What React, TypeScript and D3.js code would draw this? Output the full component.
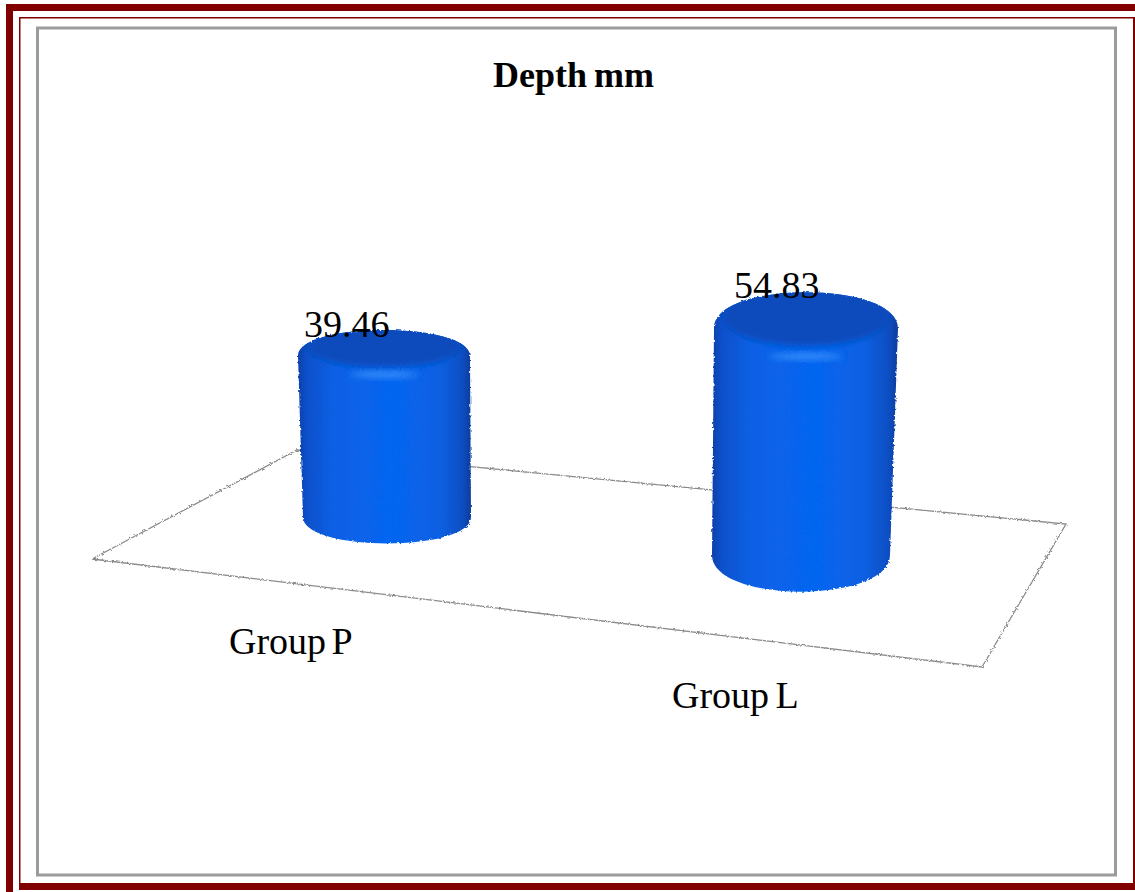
import React from "react";
import * as d3 from "d3";

const categories = ["Group P", "Group L"];
const depthValues = [39.46, 54.83];
const chartTitle = "Depth mm";

// Projected placement of each cylinder on the floor plane
const footprints = [
  { topX: 384, bottomX: 387, baseY: 521, rxTop: 86, rxBottom: 84, ry: 23, labelX: 304, labelY: 337, catX: 229, catY: 654, gap: -4 },
  { topX: 806, bottomX: 801, baseY: 559, rxTop: 92, rxBottom: 89, ry: 33, labelX: 734, labelY: 298, catX: 672, catY: 708, gap: -3 },
];

const floor: [number, number][] = [[92, 559], [297, 450], [1066, 524], [982, 667]];

const heightScale = d3.scaleLinear().domain([0, 60]).range([0, 256]);

function Cylinder({ index }: { index: number }) {
  const f = footprints[index];
  const h = heightScale(depthValues[index]);
  const topY = f.baseY - h;
  const body = d3.path();
  body.moveTo(f.topX - f.rxTop, topY + 3);
  body.bezierCurveTo(f.topX - f.rxTop, topY - f.ry * 1.36, f.topX + f.rxTop, topY - f.ry * 1.36, f.topX + f.rxTop, topY + 3);
  body.lineTo(f.bottomX + f.rxBottom, f.baseY - 4);
  body.bezierCurveTo(f.bottomX + f.rxBottom, f.baseY + f.ry * 1.36, f.bottomX - f.rxBottom, f.baseY + f.ry * 1.36, f.bottomX - f.rxBottom, f.baseY - 4);
  body.closePath();
  const clipId = `silhouette-${index}`;
  return (
    <g filter="url(#rough)">
      <clipPath id={clipId}>
        <path d={body.toString()} />
      </clipPath>
      <path d={body.toString()} fill="url(#side)" />
      <g clipPath={`url(#${clipId})`}>
        <ellipse cx={f.topX} cy={topY - f.ry * 0.28} rx={f.rxTop - 8} ry={f.ry * 0.92} fill="#0a4cbc" filter="url(#soft)" />
      </g>
      <ellipse cx={f.topX} cy={topY + f.ry * 0.95} rx={f.rxTop * 0.4} ry={2.6} fill="#4f9fff" opacity={0.85} filter="url(#soft)" />
    </g>
  );
}

export default function App() {
  const outline = d3.line()(floor.concat([floor[0]])) ?? "";
  const maroon = "#800000";
  return (
    <svg
      width={1135}
      height={892}
      style={{ position: "absolute", left: 0, top: 0, background: "#fff" }}
      fontFamily="'Liberation Serif', serif"
    >
      <defs>
        <linearGradient id="side" x1="0" x2="1" y1="0" y2="0">
          <stop offset="0" stopColor="#0a3fa8" />
          <stop offset="0.05" stopColor="#0a50ca" />
          <stop offset="0.2" stopColor="#0860e4" />
          <stop offset="0.55" stopColor="#0666f0" />
          <stop offset="0.82" stopColor="#0860e2" />
          <stop offset="0.95" stopColor="#0a4ec2" />
          <stop offset="1" stopColor="#0a3c9c" />
        </linearGradient>
        <filter id="soft" x="-20%" y="-60%" width="140%" height="220%">
          <feGaussianBlur stdDeviation="3" />
        </filter>
        <filter id="rough" x="-5%" y="-5%" width="110%" height="110%">
          <feTurbulence type="fractalNoise" baseFrequency="0.45" numOctaves="1" seed="4" result="n" />
          <feDisplacementMap in="SourceGraphic" in2="n" scale="3.5" />
        </filter>
      </defs>

      {/* Page border: heavy top, left and bottom bars with a thin inner rule */}
      <rect x={6} y={4} width={1129} height={7} fill={maroon} />
      <rect x={6} y={4} width={7} height={888} fill={maroon} />
      <rect x={19} y={883} width={1116} height={7} fill={maroon} />
      <rect x={19} y={17} width={1116} height={1.5} fill={maroon} />
      <rect x={19} y={17} width={1.5} height={866} fill={maroon} />
      <rect x={1133} y={17} width={2} height={866} fill={maroon} />

      {/* Grey chart area frame */}
      <rect x={37.5} y={28} width={1078} height={847} fill="none" stroke="#9b9b9b" strokeWidth={3} />

      <text x={493} y={87} fontSize={36} fontWeight="bold" wordSpacing={-2} fill="#000">
        {chartTitle}
      </text>

      <path d={outline} fill="none" stroke="#8a8a8a" strokeWidth={1.3} filter="url(#rough)" />

      {categories.map((_, i) => (
        <Cylinder key={i} index={i} />
      ))}

      {depthValues.map((v, i) => (
        <text key={i} x={footprints[i].labelX} y={footprints[i].labelY} fontSize={38} fill="#000">
          {v.toFixed(2)}
        </text>
      ))}
      {categories.map((c, i) => (
        <text key={c} x={footprints[i].catX} y={footprints[i].catY} fontSize={38} wordSpacing={footprints[i].gap} fill="#000">
          {c}
        </text>
      ))}
    </svg>
  );
}
